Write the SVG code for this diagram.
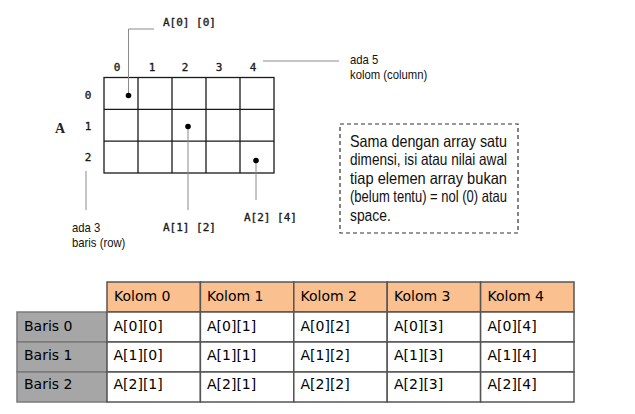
<svg xmlns="http://www.w3.org/2000/svg" width="635" height="414" viewBox="0 0 635 414">
<defs>
<style>
.grid{fill:none;stroke:#1a1a1a;stroke-width:1.3}
.lead{fill:none;stroke:#8a8a8a;stroke-width:1}
.dot{fill:#000}
.mono{font-family:"DejaVu Sans Mono","Liberation Mono",monospace;font-size:11px;fill:#1a1a1a;stroke:#1a1a1a;stroke-width:0.35}
.narrow{font-family:"Liberation Sans",Arial,sans-serif;fill:#111}
.tbl{font-family:"DejaVu Sans",Verdana,sans-serif;font-size:14px;fill:#000}
.hdr{fill:#FAC090;stroke:#555;stroke-width:1.5}
.cell{fill:#fff;stroke:#555;stroke-width:1.5}
.gray{fill:#A6A6A6;stroke:#7a7a7a;stroke-width:1.5}
</style>
</defs>
<rect width="635" height="414" fill="#fff"/>

<g id="array-grid">
<rect class="grid" x="104" y="77.5" width="170" height="95.5"/>
<line class="grid" x1="138" y1="77.5" x2="138" y2="173"/>
<line class="grid" x1="172" y1="77.5" x2="172" y2="173"/>
<line class="grid" x1="206" y1="77.5" x2="206" y2="173"/>
<line class="grid" x1="240" y1="77.5" x2="240" y2="173"/>
<line class="grid" x1="104" y1="109.3" x2="274" y2="109.3"/>
<line class="grid" x1="104" y1="141.2" x2="274" y2="141.2"/>
</g>

<g id="col-indices" class="mono" text-anchor="middle">
<text x="117" y="71">0</text>
<text x="152" y="71">1</text>
<text x="185" y="71">2</text>
<text x="219" y="71">3</text>
<text x="253" y="71">4</text>
</g>
<g id="row-indices" class="mono" text-anchor="middle">
<text x="88" y="99">0</text>
<text x="88" y="130">1</text>
<text x="88" y="161">2</text>
</g>
<g id="array-name">
<text x="60" y="132.5" text-anchor="middle" font-family="Liberation Serif,serif" font-size="14" font-weight="bold" fill="#222">A</text>
</g>

<g id="connectors">
<polyline class="lead" points="154,29 128.5,29 128.5,95.5"/>
<line class="lead" x1="263" y1="61" x2="339" y2="61"/>
<line class="lead" x1="188" y1="126" x2="188" y2="210"/>
<line class="lead" x1="256" y1="160.5" x2="256" y2="200"/>
<line class="lead" x1="86" y1="171" x2="86" y2="210"/>
</g>

<g id="dots">
<circle class="dot" cx="128.5" cy="95.5" r="2.8"/>
<circle class="dot" cx="188" cy="126.5" r="2.8"/>
<circle class="dot" cx="256" cy="160.5" r="2.8"/>
</g>

<g id="label-a00"><text class="mono" x="163" y="26">A[0] [0]</text></g>
<g id="label-a12"><text class="mono" x="163" y="231">A[1] [2]</text></g>
<g id="label-a24"><text class="mono" x="244" y="221">A[2] [4]</text></g>

<g id="label-cols" class="narrow" font-size="13">
<text transform="translate(350,64) scale(0.87,1)">ada 5</text>
<text transform="translate(350,79) scale(0.87,1)">kolom (column)</text>
</g>
<g id="label-rows" class="narrow" font-size="13">
<text transform="translate(72,232) scale(0.87,1)">ada 3</text>
<text transform="translate(72,247) scale(0.87,1)">baris (row)</text>
</g>

<g id="note">
<rect x="340" y="124" width="178" height="109" fill="none" stroke="#333" stroke-width="1.2" stroke-dasharray="4,3"/>
<g class="narrow" font-size="16.5">
<text x="350" y="146.5" textLength="157" lengthAdjust="spacingAndGlyphs">Sama dengan array satu</text>
<text x="350" y="165" textLength="157" lengthAdjust="spacingAndGlyphs">dimensi, isi atau nilai awal</text>
<text x="350" y="183.5" textLength="157" lengthAdjust="spacingAndGlyphs">tiap elemen array bukan</text>
<text x="350" y="202" textLength="157" lengthAdjust="spacingAndGlyphs">(belum tentu) = nol (0) atau</text>
<text transform="translate(350,220.5) scale(0.84,1)">space.</text>
</g>
</g>

<g id="table">
<rect class="hdr" x="107" y="282" width="93.4" height="30"/>
<rect class="hdr" x="200.4" y="282" width="93.4" height="30"/>
<rect class="hdr" x="293.8" y="282" width="93.4" height="30"/>
<rect class="hdr" x="387.2" y="282" width="93.4" height="30"/>
<rect class="hdr" x="480.6" y="282" width="93.4" height="30"/>

<rect class="gray" x="17" y="312" width="90" height="30"/>
<rect class="gray" x="17" y="342" width="90" height="30"/>
<rect class="gray" x="17" y="372" width="90" height="30"/>

<g>
<rect class="cell" x="107" y="312" width="93.4" height="30"/>
<rect class="cell" x="200.4" y="312" width="93.4" height="30"/>
<rect class="cell" x="293.8" y="312" width="93.4" height="30"/>
<rect class="cell" x="387.2" y="312" width="93.4" height="30"/>
<rect class="cell" x="480.6" y="312" width="93.4" height="30"/>
<rect class="cell" x="107" y="342" width="93.4" height="30"/>
<rect class="cell" x="200.4" y="342" width="93.4" height="30"/>
<rect class="cell" x="293.8" y="342" width="93.4" height="30"/>
<rect class="cell" x="387.2" y="342" width="93.4" height="30"/>
<rect class="cell" x="480.6" y="342" width="93.4" height="30"/>
<rect class="cell" x="107" y="372" width="93.4" height="30"/>
<rect class="cell" x="200.4" y="372" width="93.4" height="30"/>
<rect class="cell" x="293.8" y="372" width="93.4" height="30"/>
<rect class="cell" x="387.2" y="372" width="93.4" height="30"/>
<rect class="cell" x="480.6" y="372" width="93.4" height="30"/>
</g>

<g class="tbl">
<text x="114" y="301">Kolom 0</text>
<text x="207" y="301">Kolom 1</text>
<text x="300.5" y="301">Kolom 2</text>
<text x="394" y="301">Kolom 3</text>
<text x="487.5" y="301">Kolom 4</text>

<text x="24" y="331">Baris 0</text>
<text x="24" y="360">Baris 1</text>
<text x="24" y="389">Baris 2</text>

<text x="113.5" y="331">A[0][0]</text>
<text x="207" y="331">A[0][1]</text>
<text x="300.5" y="331">A[0][2]</text>
<text x="394" y="331">A[0][3]</text>
<text x="487.5" y="331">A[0][4]</text>

<text x="113.5" y="360">A[1][0]</text>
<text x="207" y="360">A[1][1]</text>
<text x="300.5" y="360">A[1][2]</text>
<text x="394" y="360">A[1][3]</text>
<text x="487.5" y="360">A[1][4]</text>

<text x="113.5" y="389">A[2][1]</text>
<text x="207" y="389">A[2][1]</text>
<text x="300.5" y="389">A[2][2]</text>
<text x="394" y="389">A[2][3]</text>
<text x="487.5" y="389">A[2][4]</text>
</g>
</g>
</svg>
